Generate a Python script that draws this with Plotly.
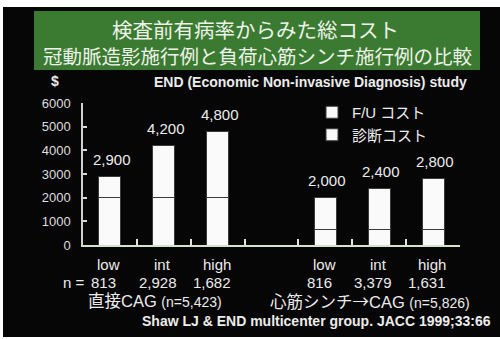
import plotly.graph_objects as go

# ---- data ----
cats = ["直接-low", "直接-int", "直接-high", "gap", "心筋-low", "心筋-int", "心筋-high"]
risk_labels = ["low", "int", "high", "", "low", "int", "high"]
n_labels = ["813", "2,928", "1,682", "", "816", "3,379", "1,631"]
total_cost = [2900, 4200, 4800, None, 2000, 2400, 2800]
diag_cost = [2000, 2000, 2000, None, 650, 650, 650]
fu_cost = [None if t is None else t - d for t, d in zip(total_cost, diag_cost)]
group_labels = [
    (1, '直接CAG <span style="font-size:14px">(n=5,423)</span>'),
    (5, '心筋シンチ<span style="font-family:Noto Sans CJK JP">→</span>CAG '
        '<span style="font-size:14px">(n=5,826)</span>'),
]
y_ticks = [0, 1000, 2000, 3000, 4000, 5000, 6000]

# category positions on a linear axis (so ticks can sit on category boundaries)
xpos = list(range(len(cats)))
boundaries = [i + 0.5 for i in xpos]

# ---- geometry ----
W, H = 500, 339
ML, MR, MT, MB = 83, 40, 103, 94
PW, PH = W - ML - MR, H - MT - MB
def px(x):
    return (x - ML) / PW
def py(y):
    return (H - MB - y) / PH

FONT = "Liberation Sans, Arial, Noto Sans CJK JP, sans-serif"
TXT = "#ececec"

fig = go.Figure()
fig.add_bar(x=xpos, y=diag_cost, name="診断コスト", width=0.41,
            marker=dict(color="#fafafa", line=dict(color="#3a3a3a", width=1)),
            hoverinfo="skip")
fig.add_bar(x=xpos, y=fu_cost, name="F/U コスト", width=0.41,
            marker=dict(color="#fafafa", line=dict(color="#3a3a3a", width=1)),
            hoverinfo="skip")

WHITE = dict(width=0)
shapes = [
    # white frame strips around the black slide
    dict(type="rect", xref="paper", yref="paper", x0=px(-2), x1=px(3),
         y0=py(H + 2), y1=py(-2), fillcolor="#ffffff", line=WHITE),
    dict(type="rect", xref="paper", yref="paper", x0=px(-2), x1=px(W + 2),
         y0=py(7), y1=py(-2), fillcolor="#ffffff", line=WHITE),
    dict(type="rect", xref="paper", yref="paper", x0=px(-2), x1=px(W + 2),
         y0=py(H + 2), y1=py(337), fillcolor="#ffffff", line=WHITE),
    # green title box
    dict(type="rect", xref="paper", yref="paper", x0=px(34), x1=px(480),
         y0=py(70), y1=py(11), fillcolor="#3b7a31", line=dict(width=0), layer="below"),
]

ann = []
def txt(x, y, s, size, anchor="center", color=TXT):
    ann.append(dict(xref="paper", yref="paper", x=px(x), y=py(y), text=s,
                    showarrow=False, xanchor=anchor, yanchor="middle",
                    font=dict(family=FONT, size=size, color=color)))

txt(255, 30, "検査前有病率からみた総コスト", 20.5, color="#eef3ea")
txt(257, 57, "冠動脈造影施行例と負荷心筋シンチ施行例の比較", 19.5, color="#eef3ea")
txt(55, 81, "<b>$</b>", 14)
txt(310, 82, "<b>END (Economic Non-invasive Diagnosis) study</b>", 14)
txt(74, 282, "n =", 15)
txt(140, 321, "<b>Shaw LJ & END multicenter group. JACC 1999;33:66</b>", 14, anchor="left")

# value labels
for x, t in zip(xpos, total_cost):
    if t is None:
        continue
    ann.append(dict(x=x, y=t, xref="x", yref="y", text=f"{t:,}", showarrow=False,
                    yanchor="middle", yshift=17, xshift=2,
                    font=dict(family=FONT, size=15, color=TXT)))
# risk labels and n values
for x, r, n in zip(xpos, risk_labels, n_labels):
    if not r:
        continue
    ann.append(dict(x=x, y=0, xref="x", yref="y", text=r, showarrow=False,
                    yanchor="middle", yshift=-19, xshift=-1,
                    font=dict(family=FONT, size=15, color=TXT)))
    ann.append(dict(x=x, y=0, xref="x", yref="y", text=n, showarrow=False,
                    yanchor="middle", yshift=-37, xshift=-6,
                    font=dict(family=FONT, size=15, color=TXT)))
for x, g in group_labels:
    ann.append(dict(x=x, y=0, xref="x", yref="y", text=g, showarrow=False,
                    yanchor="middle", yshift=-56, xshift=-9,
                    font=dict(family=FONT, size=16.5, color=TXT)))

fig.update_layout(
    width=W, height=H,
    margin=dict(l=ML, r=MR, t=MT, b=MB),
    paper_bgcolor="#060606", plot_bgcolor="#060606",
    barmode="stack", bargap=0.59,
    shapes=shapes, annotations=ann,
    showlegend=True,
    legend=dict(x=px(312), y=py(96), xanchor="left", yanchor="top",
                traceorder="reversed", bgcolor="rgba(0,0,0,0)",
                font=dict(family=FONT, size=15, color=TXT),
                itemclick=False, itemdoubleclick=False, tracegroupgap=0),
    xaxis=dict(type="linear", range=[-0.5, len(cats) - 0.5], tickvals=boundaries,
               showticklabels=False, showgrid=False, zeroline=False,
               showline=True, linecolor="#d6e2cc", linewidth=2,
               ticks="inside", ticklen=6, tickcolor="#e0e8d8", tickwidth=2),
    yaxis=dict(range=[0, 6000], tickvals=y_ticks, showgrid=False, zeroline=False,
               showline=True, linecolor="#cfcfcf", linewidth=1.5,
               ticks="inside", ticklen=4, tickcolor="#d8d8d8", tickwidth=2,
               ticklabelstandoff=8,
               tickfont=dict(family=FONT, size=13, color="#dedede")),
)

fig.write_html("out.html")
